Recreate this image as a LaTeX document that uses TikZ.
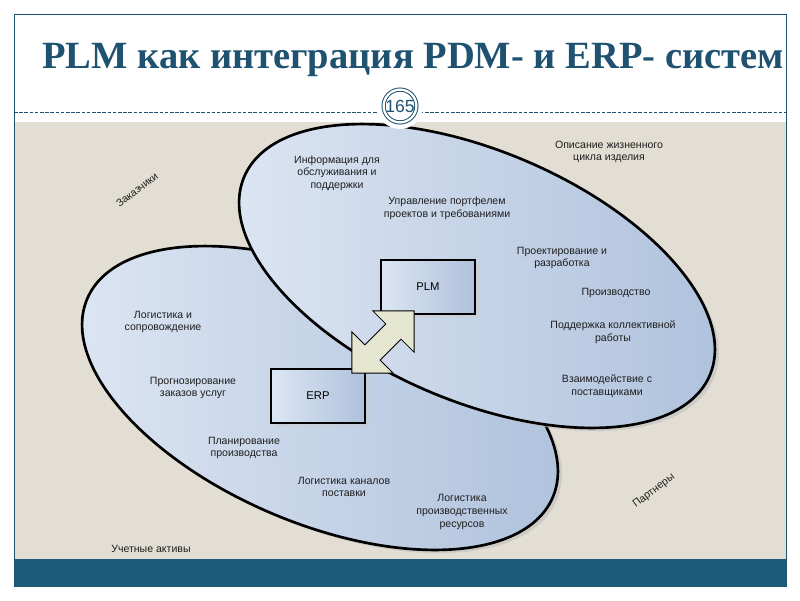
\documentclass[tikz,border=0pt]{standalone}
\usepackage{fontspec}
\setmainfont{Liberation Sans}
\newfontfamily\titlefont{Liberation Serif}
\usetikzlibrary{shapes.geometric, shapes.arrows, shadows}

\definecolor{frameblue}{HTML}{1F5270}
\definecolor{bandblue}{HTML}{1E5A7A}
\definecolor{sand}{HTML}{E3DED3}
\definecolor{areatop}{HTML}{DDE6F3}
\definecolor{areabottom}{HTML}{AEC1DC}
\definecolor{arrowfill}{HTML}{E5E6D0}
\definecolor{labelgray}{HTML}{1E1E1E}

\begin{document}
\begin{tikzpicture}[x=0.025cm, y=-0.025cm,
    area/.style={draw, ellipse, line width=1.9pt, inner sep=0, minimum width=12.65cm, minimum height=6.25cm, rotate=-23.1, left color=areatop, right color=areabottom, drop shadow={shadow xshift=0.1cm, shadow yshift=-0.08cm, fill=black!25, opacity=0.6}},
    sysbox/.style={draw, line width=1.4pt, minimum width=2.35cm, minimum height=1.35cm, left color=areatop, right color=areabottom, drop shadow={shadow xshift=0.1cm, shadow yshift=-0.1cm, fill=black!20, opacity=0.5}, font=\fontsize{8}{9}\selectfont},
    lbl/.style={font=\fontsize{7.5}{9}\selectfont, text=labelgray, align=center}]
    \useasboundingbox (0,0) rectangle (800,600);

    % Slide background
    \fill[sand] (14,122) rectangle (786,559);
    \fill[bandblue] (14,559) rectangle (786,587);
    \draw[frameblue, line width=0.7pt] (14,587) -- (14,14) -- (786,14) -- (786,587);
    \draw[frameblue, line width=0.5pt, dash pattern=on 2.5pt off 1.2pt] (14,112.5) -- (786,112.5);

    % Title
    \node[anchor=base, text=frameblue, font=\titlefont\bfseries\fontsize{27.4}{30}\selectfont] (title) at (413,68) {PLM как интеграция PDM- и ERP- систем};

    % ERP and PLM areas
    \node[area] (erparea) at (320,398) {};
    \node[area] (plmarea) at (477,276) {};

    % Page number
    \fill[white] (400,106) circle (23);
    \node[circle, draw=frameblue, double=white, double distance=1.6pt, line width=0.7pt, fill=white, minimum size=0.82cm, inner sep=0, text=frameblue, font=\fontsize{12.5}{13}\selectfont] (pagenum) at (400,106) {165};

    % Systems
    \node[sysbox] (plm) at (428,287) {PLM};
    \node[sysbox] (erp) at (318,396) {ERP};
    \node[double arrow, draw, line width=0.6pt, fill=arrowfill, rotate=45, minimum height=2.2cm, inner sep=0.26cm, double arrow head extend=0.46cm] (link) at (383,342) {};

    % Outer labels
    \node[lbl, rotate=37] (customers) at (137,190) {Заказчики};
    \node[lbl, rotate=37] (partners) at (654,491) {Партнеры};
    \node[lbl] (assets) at (151,549) {Учетные активы};
    \node[lbl] (lifecycle) at (609,152) {Описание жизненного\\цикла изделия};

    % PLM labels
    \node[lbl] (service) at (337,173) {Информация для\\обслуживания и\\поддержки};
    \node[lbl] (portfolio) at (447,208) {Управление портфелем\\проектов и требованиями};
    \node[lbl] (design) at (562,258) {Проектирование и\\разработка};
    \node[lbl] (production) at (616,293) {Производство};
    \node[lbl] (teamwork) at (613,332) {Поддержка коллективной\\работы};
    \node[lbl] (suppliers) at (607,386) {Взаимодействие с\\поставщиками};

    % ERP labels
    \node[lbl] (logistics) at (163,322) {Логистика и\\сопровождение};
    \node[lbl] (forecast) at (193,388) {Прогнозирование\\заказов услуг};
    \node[lbl] (planning) at (244,448) {Планирование\\производства};
    \node[lbl] (channels) at (344,487) {Логистика каналов\\поставки};
    \node[lbl] (resources) at (462,512) {Логистика\\производственных\\ресурсов};
\end{tikzpicture}
\end{document}
